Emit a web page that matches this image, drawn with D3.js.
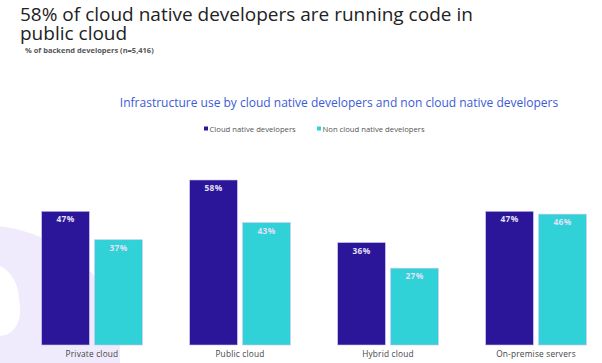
<!DOCTYPE html>
<html>
<head>
<meta charset="utf-8">
<script src="https://cdnjs.cloudflare.com/ajax/libs/d3/7.8.5/d3.min.js"></script>
<style>
	body { margin: 0; background: #fff; }
	svg { display: block; font-family: "Open Sans", sans-serif; }
</style>
</head>
<body>
<div id="chart"></div>
<script>
var categories = ["Private cloud", "Public cloud", "Hybrid cloud", "On-premise servers"];
var seriesNames = ["Cloud native developers", "Non cloud native developers"];
var cloudNative = [47, 58, 36, 47];
var nonCloudNative = [37, 43, 27, 46];
var titleLines = ["58% of cloud native developers are running code in", "public cloud"];

var width = 602,
	height = 363,
	baseline = 345,
	colors = ["#2b1699", "#30d1d7"];

var svg = d3.select("#chart").append("svg")
	.attr("width", width)
	.attr("height", height);

// lavender decoration on the left
svg.append("path")
	.attr("fill", "#efebfc")
	.attr("fill-rule", "evenodd")
	.attr("d", "M-160,345 A140,120 0 0 1 120,345 L120,363 L-160,363 Z " +
		"M-27,300 A23,31 -15 1 0 19,300 A23,31 -15 1 0 -27,300 Z");

// two-line title in one text element
svg.append("text")
	.attr("font-size", "19px")
	.attr("fill", "#222")
	.selectAll("tspan")
	.data(titleLines)
	.enter()
	.append("tspan")
	.attr("x", 20)
	.attr("y", function(d, i) { return 21 + i * 19; })
	.text(function(d) { return d; });

svg.append("text")
	.attr("x", 25).attr("y", 53)
	.attr("font-size", "7.5px")
	.attr("font-weight", "bold")
	.attr("fill", "#555")
	.text("% of backend developers (n=5,416)");

svg.append("text")
	.attr("x", 339).attr("y", 107)
	.attr("text-anchor", "middle")
	.attr("font-size", "12px")
	.attr("fill", "#3b5bd8")
	.text("Infrastructure use by cloud native developers and non cloud native developers");

// legend
var legendX = [204, 317];
var legend = svg.selectAll(".legend")
	.data(seriesNames)
	.enter()
	.append("g")
	.attr("transform", function(d, i) { return "translate(" + legendX[i] + ",129)"; });
legend.append("rect")
	.attr("x", 0).attr("y", -2.5)
	.attr("width", 4).attr("height", 4)
	.attr("fill", function(d, i) { return colors[i]; });
legend.append("text")
	.attr("x", 5.5).attr("y", 2.7)
	.attr("font-size", "7.7px")
	.attr("fill", "#555")
	.text(function(d) { return d; });

var x0 = d3.scaleBand()
	.domain(categories)
	.range([18, 610])
	.paddingInner(0.32)
	.paddingOuter(0.16);

var x1 = d3.scaleBand()
	.domain([0, 1])
	.range([0, x0.bandwidth()])
	.paddingInner(0.1);

var y = d3.scaleLinear()
	.domain([0, 58])
	.range([baseline, 180]);

var rows = categories.map(function(c, i) {
	return { category: c, values: [cloudNative[i], nonCloudNative[i]] };
});

var group = svg.selectAll(".group")
	.data(rows)
	.enter()
	.append("g")
	.attr("transform", function(d) { return "translate(" + x0(d.category) + ",0)"; });

var bar = group.selectAll(".bar")
	.data(function(d) { return d.values.map(function(v, i) { return { s: i, v: v }; }); })
	.enter()
	.append("g");

bar.append("rect")
	.attr("x", function(d) { return x1(d.s); })
	.attr("y", function(d) { return y(d.v); })
	.attr("width", x1.bandwidth())
	.attr("height", function(d) { return baseline - y(d.v); })
	.attr("fill", function(d) { return colors[d.s]; })
	.attr("stroke", "#c9c2f0")
	.attr("stroke-width", 0.6);

bar.append("text")
	.attr("x", function(d) { return x1(d.s) + x1.bandwidth() / 2; })
	.attr("y", function(d) { return y(d.v) + 11; })
	.attr("text-anchor", "middle")
	.attr("font-size", "8.3px")
	.attr("font-weight", "bold")
	.attr("letter-spacing", "0.3px")
	.attr("fill", "#e4e0f6")
	.text(function(d) { return d.v + "%"; });

group.append("text")
	.attr("x", x0.bandwidth() / 2)
	.attr("y", 357)
	.attr("text-anchor", "middle")
	.attr("font-size", "8.3px")
	.attr("letter-spacing", "0.2px")
	.attr("fill", "#444")
	.text(function(d) { return d.category; });
</script>
</body>
</html>
